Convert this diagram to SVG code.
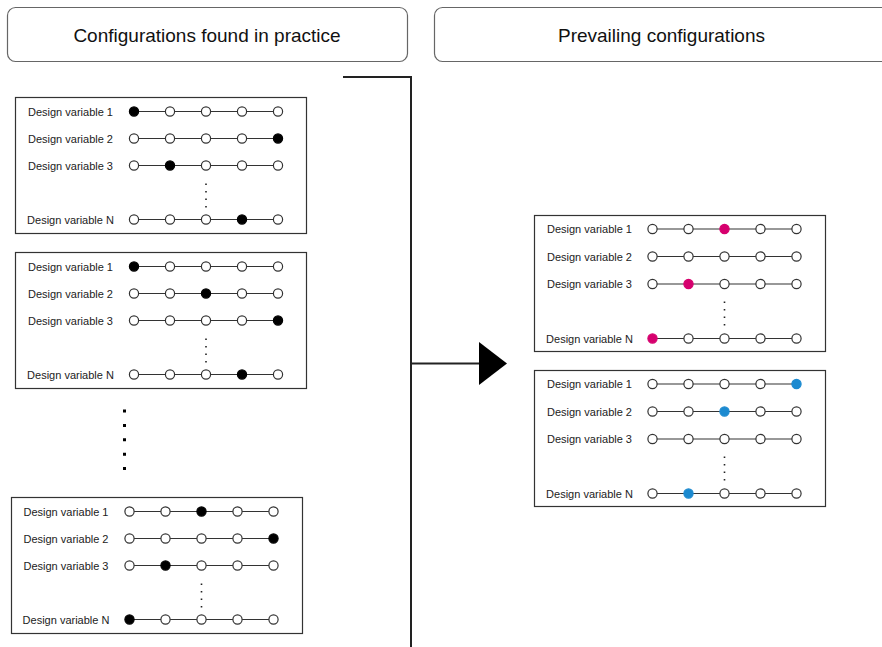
<svg xmlns="http://www.w3.org/2000/svg" width="882" height="647" viewBox="0 0 882 647">
  <style>
    .hdr { fill: #ffffff; stroke: #666666; stroke-width: 1.2; }
    .hdr-t { font-family: "Liberation Sans", Arial, sans-serif; font-size: 19px; fill: #111111; text-anchor: middle; }
    .box { fill: #ffffff; stroke: #333333; stroke-width: 1.2; }
    .lbl { font-family: "Liberation Sans", Arial, sans-serif; font-size: 11px; fill: #222222; text-anchor: middle; }
    .bar { stroke: #333333; stroke-width: 1.2; fill: none; }
    .o { fill: #ffffff; stroke: #333333; stroke-width: 1.2; }
    .k { fill: #000000; stroke: #000000; stroke-width: 1.2; }
    .m { fill: #d6006e; stroke: #d6006e; stroke-width: 1.2; }
    .b { fill: #1c8ad0; stroke: #1c8ad0; stroke-width: 1.2; }
    .vdots { stroke: #222222; stroke-width: 1.6; stroke-dasharray: 1.6 5.9; fill: none; }
    .edge { stroke: #222222; stroke-width: 2; fill: none; }
  </style>
  <defs>
    <!-- one scale row: five options joined by a line -->
    <g id="scale">
      <line class="bar" x1="0" y1="0" x2="144" y2="0"/>
    </g>
  </defs>

  <rect width="882" height="647" fill="#ffffff"/>

  <!-- column headers -->
  <g id="header-practice">
    <rect class="hdr" x="7.5" y="7.5" width="400" height="54" rx="8"/>
    <text class="hdr-t" x="207" y="41.5">Configurations found in practice</text>
  </g>
  <g id="header-prevailing">
    <rect class="hdr" x="434.5" y="7.5" width="460" height="54" rx="8"/>
    <text class="hdr-t" x="661.5" y="41.5">Prevailing configurations</text>
  </g>

  <!-- observed configuration 1 -->
  <g id="config-a">
    <rect class="box" x="15.5" y="97.5" width="291" height="136"/>
    <g class="lbl">
      <text x="70.5" y="115.5">Design variable 1</text>
      <text x="70.5" y="142.5">Design variable 2</text>
      <text x="70.5" y="169.5">Design variable 3</text>
      <text x="70.5" y="223.5">Design variable N</text>
    </g>
    <use href="#scale" x="134" y="111.5"/>
    <use href="#scale" x="134" y="138.5"/>
    <use href="#scale" x="134" y="165.5"/>
    <use href="#scale" x="134" y="219.5"/>
    <line class="vdots" x1="206" y1="183.5" x2="206" y2="208"/>
    <circle class="k" cx="134" cy="111.5" r="4.6"/><circle class="o" cx="170" cy="111.5" r="4.6"/><circle class="o" cx="206" cy="111.5" r="4.6"/><circle class="o" cx="242" cy="111.5" r="4.6"/><circle class="o" cx="278" cy="111.5" r="4.6"/>
    <circle class="o" cx="134" cy="138.5" r="4.6"/><circle class="o" cx="170" cy="138.5" r="4.6"/><circle class="o" cx="206" cy="138.5" r="4.6"/><circle class="o" cx="242" cy="138.5" r="4.6"/><circle class="k" cx="278" cy="138.5" r="4.6"/>
    <circle class="o" cx="134" cy="165.5" r="4.6"/><circle class="k" cx="170" cy="165.5" r="4.6"/><circle class="o" cx="206" cy="165.5" r="4.6"/><circle class="o" cx="242" cy="165.5" r="4.6"/><circle class="o" cx="278" cy="165.5" r="4.6"/>
    <circle class="o" cx="134" cy="219.5" r="4.6"/><circle class="o" cx="170" cy="219.5" r="4.6"/><circle class="o" cx="206" cy="219.5" r="4.6"/><circle class="k" cx="242" cy="219.5" r="4.6"/><circle class="o" cx="278" cy="219.5" r="4.6"/>
  </g>

  <!-- observed configuration 2 -->
  <g id="config-b">
    <rect class="box" x="15.5" y="252.5" width="291" height="136"/>
    <g class="lbl">
      <text x="70.5" y="270.5">Design variable 1</text>
      <text x="70.5" y="297.5">Design variable 2</text>
      <text x="70.5" y="324.5">Design variable 3</text>
      <text x="70.5" y="378.5">Design variable N</text>
    </g>
    <use href="#scale" x="134" y="266.5"/>
    <use href="#scale" x="134" y="293.5"/>
    <use href="#scale" x="134" y="320.5"/>
    <use href="#scale" x="134" y="374.5"/>
    <line class="vdots" x1="206" y1="338.5" x2="206" y2="363"/>
    <circle class="k" cx="134" cy="266.5" r="4.6"/><circle class="o" cx="170" cy="266.5" r="4.6"/><circle class="o" cx="206" cy="266.5" r="4.6"/><circle class="o" cx="242" cy="266.5" r="4.6"/><circle class="o" cx="278" cy="266.5" r="4.6"/>
    <circle class="o" cx="134" cy="293.5" r="4.6"/><circle class="o" cx="170" cy="293.5" r="4.6"/><circle class="k" cx="206" cy="293.5" r="4.6"/><circle class="o" cx="242" cy="293.5" r="4.6"/><circle class="o" cx="278" cy="293.5" r="4.6"/>
    <circle class="o" cx="134" cy="320.5" r="4.6"/><circle class="o" cx="170" cy="320.5" r="4.6"/><circle class="o" cx="206" cy="320.5" r="4.6"/><circle class="o" cx="242" cy="320.5" r="4.6"/><circle class="k" cx="278" cy="320.5" r="4.6"/>
    <circle class="o" cx="134" cy="374.5" r="4.6"/><circle class="o" cx="170" cy="374.5" r="4.6"/><circle class="o" cx="206" cy="374.5" r="4.6"/><circle class="k" cx="242" cy="374.5" r="4.6"/><circle class="o" cx="278" cy="374.5" r="4.6"/>
  </g>

  <!-- more configurations elided -->
  <line id="ellipsis" x1="124.5" y1="409.5" x2="124.5" y2="471" stroke="#000000" stroke-width="3" stroke-dasharray="3 11.4"/>

  <!-- observed configuration 3 -->
  <g id="config-c">
    <rect class="box" x="11.5" y="497.5" width="291" height="136"/>
    <g class="lbl">
      <text x="66" y="515.5">Design variable 1</text>
      <text x="66" y="542.5">Design variable 2</text>
      <text x="66" y="569.5">Design variable 3</text>
      <text x="66" y="623.5">Design variable N</text>
    </g>
    <use href="#scale" x="129.5" y="511.5"/>
    <use href="#scale" x="129.5" y="538.5"/>
    <use href="#scale" x="129.5" y="565.5"/>
    <use href="#scale" x="129.5" y="619.5"/>
    <line class="vdots" x1="201.5" y1="583.5" x2="201.5" y2="608"/>
    <circle class="o" cx="129.5" cy="511.5" r="4.6"/><circle class="o" cx="165.5" cy="511.5" r="4.6"/><circle class="k" cx="201.5" cy="511.5" r="4.6"/><circle class="o" cx="237.5" cy="511.5" r="4.6"/><circle class="o" cx="273.5" cy="511.5" r="4.6"/>
    <circle class="o" cx="129.5" cy="538.5" r="4.6"/><circle class="o" cx="165.5" cy="538.5" r="4.6"/><circle class="o" cx="201.5" cy="538.5" r="4.6"/><circle class="o" cx="237.5" cy="538.5" r="4.6"/><circle class="k" cx="273.5" cy="538.5" r="4.6"/>
    <circle class="o" cx="129.5" cy="565.5" r="4.6"/><circle class="k" cx="165.5" cy="565.5" r="4.6"/><circle class="o" cx="201.5" cy="565.5" r="4.6"/><circle class="o" cx="237.5" cy="565.5" r="4.6"/><circle class="o" cx="273.5" cy="565.5" r="4.6"/>
    <circle class="k" cx="129.5" cy="619.5" r="4.6"/><circle class="o" cx="165.5" cy="619.5" r="4.6"/><circle class="o" cx="201.5" cy="619.5" r="4.6"/><circle class="o" cx="237.5" cy="619.5" r="4.6"/><circle class="o" cx="273.5" cy="619.5" r="4.6"/>
  </g>

  <!-- prevailing configuration 1 (magenta) -->
  <g id="prevailing-a">
    <rect class="box" x="534.5" y="215.5" width="291" height="136"/>
    <g class="lbl">
      <text x="589.5" y="233">Design variable 1</text>
      <text x="589.5" y="260.5">Design variable 2</text>
      <text x="589.5" y="288">Design variable 3</text>
      <text x="589.5" y="342.5">Design variable N</text>
    </g>
    <use href="#scale" x="652.5" y="229"/>
    <use href="#scale" x="652.5" y="256.5"/>
    <use href="#scale" x="652.5" y="284"/>
    <use href="#scale" x="652.5" y="338.5"/>
    <line class="vdots" x1="724.5" y1="301.5" x2="724.5" y2="326"/>
    <circle class="o" cx="652.5" cy="229" r="4.6"/><circle class="o" cx="688.5" cy="229" r="4.6"/><circle class="m" cx="724.5" cy="229" r="4.6"/><circle class="o" cx="760.5" cy="229" r="4.6"/><circle class="o" cx="796.5" cy="229" r="4.6"/>
    <circle class="o" cx="652.5" cy="256.5" r="4.6"/><circle class="o" cx="688.5" cy="256.5" r="4.6"/><circle class="o" cx="724.5" cy="256.5" r="4.6"/><circle class="o" cx="760.5" cy="256.5" r="4.6"/><circle class="o" cx="796.5" cy="256.5" r="4.6"/>
    <circle class="o" cx="652.5" cy="284" r="4.6"/><circle class="m" cx="688.5" cy="284" r="4.6"/><circle class="o" cx="724.5" cy="284" r="4.6"/><circle class="o" cx="760.5" cy="284" r="4.6"/><circle class="o" cx="796.5" cy="284" r="4.6"/>
    <circle class="m" cx="652.5" cy="338.5" r="4.6"/><circle class="o" cx="688.5" cy="338.5" r="4.6"/><circle class="o" cx="724.5" cy="338.5" r="4.6"/><circle class="o" cx="760.5" cy="338.5" r="4.6"/><circle class="o" cx="796.5" cy="338.5" r="4.6"/>
  </g>

  <!-- prevailing configuration 2 (blue) -->
  <g id="prevailing-b">
    <rect class="box" x="534.5" y="370.5" width="291" height="136"/>
    <g class="lbl">
      <text x="589.5" y="388">Design variable 1</text>
      <text x="589.5" y="415.5">Design variable 2</text>
      <text x="589.5" y="443">Design variable 3</text>
      <text x="589.5" y="497.5">Design variable N</text>
    </g>
    <use href="#scale" x="652.5" y="384"/>
    <use href="#scale" x="652.5" y="411.5"/>
    <use href="#scale" x="652.5" y="439"/>
    <use href="#scale" x="652.5" y="493.5"/>
    <line class="vdots" x1="724.5" y1="456.5" x2="724.5" y2="481"/>
    <circle class="o" cx="652.5" cy="384" r="4.6"/><circle class="o" cx="688.5" cy="384" r="4.6"/><circle class="o" cx="724.5" cy="384" r="4.6"/><circle class="o" cx="760.5" cy="384" r="4.6"/><circle class="b" cx="796.5" cy="384" r="4.6"/>
    <circle class="o" cx="652.5" cy="411.5" r="4.6"/><circle class="o" cx="688.5" cy="411.5" r="4.6"/><circle class="b" cx="724.5" cy="411.5" r="4.6"/><circle class="o" cx="760.5" cy="411.5" r="4.6"/><circle class="o" cx="796.5" cy="411.5" r="4.6"/>
    <circle class="o" cx="652.5" cy="439" r="4.6"/><circle class="o" cx="688.5" cy="439" r="4.6"/><circle class="o" cx="724.5" cy="439" r="4.6"/><circle class="o" cx="760.5" cy="439" r="4.6"/><circle class="o" cx="796.5" cy="439" r="4.6"/>
    <circle class="o" cx="652.5" cy="493.5" r="4.6"/><circle class="b" cx="688.5" cy="493.5" r="4.6"/><circle class="o" cx="724.5" cy="493.5" r="4.6"/><circle class="o" cx="760.5" cy="493.5" r="4.6"/><circle class="o" cx="796.5" cy="493.5" r="4.6"/>
  </g>

  <!-- connectors: bracket gathering the observed set, arrow to the prevailing set -->
  <g id="connectors">
    <path class="edge" d="M343,77 H411 V647"/>
    <line class="edge" x1="411" y1="363.5" x2="481" y2="363.5"/>
    <polygon points="479,342 507,363.5 479,385" fill="#000000"/>
  </g>
</svg>
